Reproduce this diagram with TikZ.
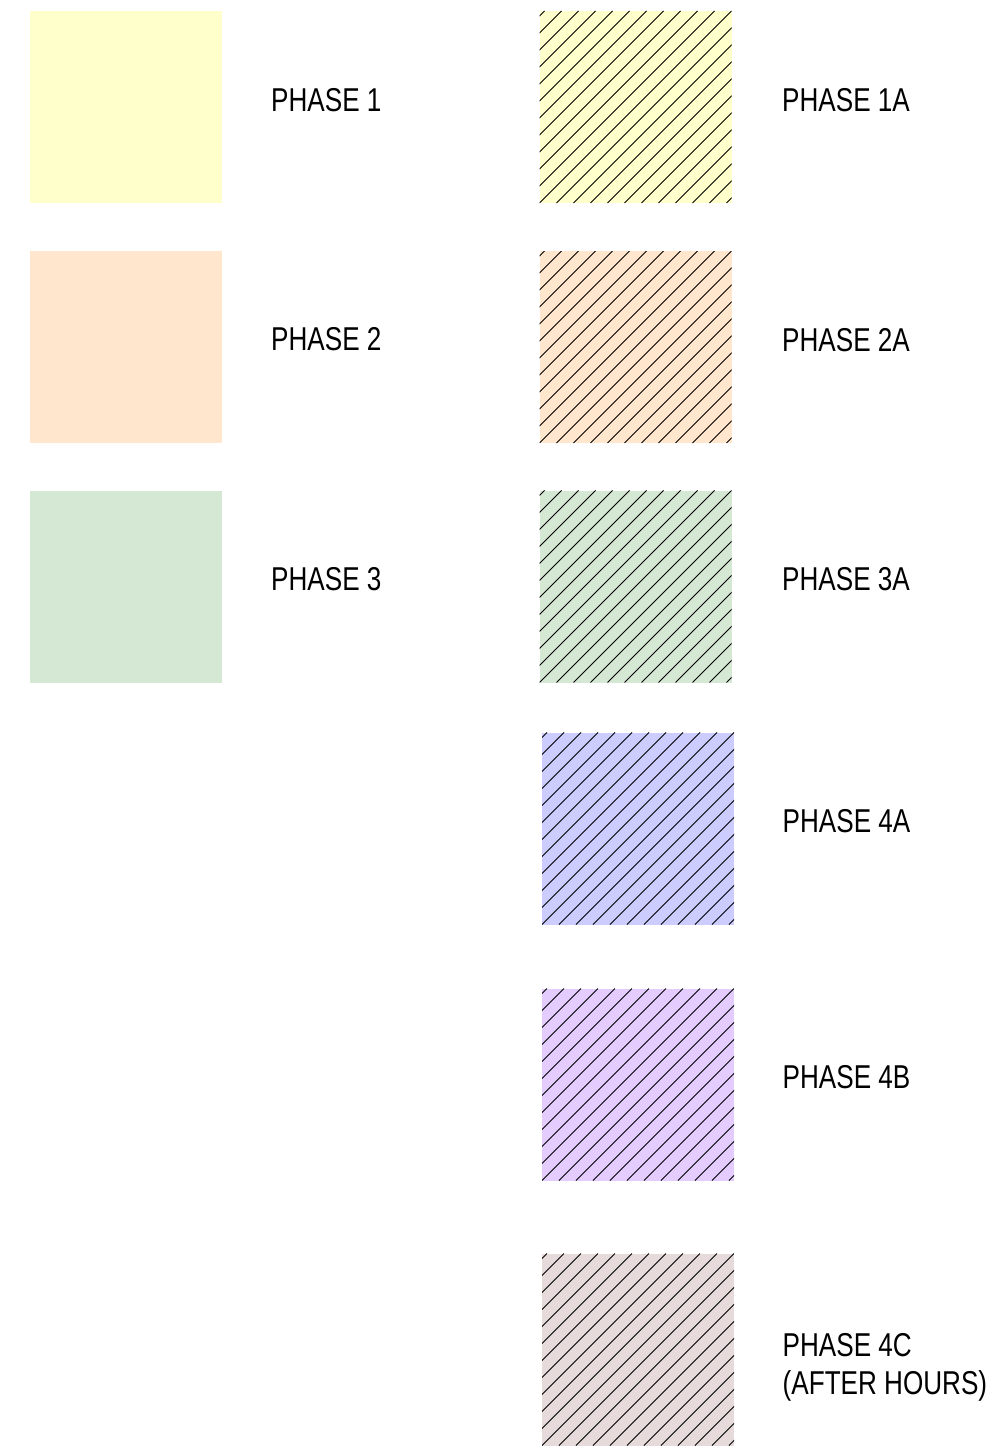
\documentclass[tikz,border=0pt]{standalone}
\usepackage{fontspec}
\setmainfont{Liberation Sans}[FakeStretch=0.79]
\usepackage{tikz}
\usetikzlibrary{positioning}
\definecolor{PhaseYellow}{HTML}{FFFFCC}
\definecolor{PhasePeach}{HTML}{FFE6CC}
\definecolor{PhaseGreen}{HTML}{D5E8D4}
\definecolor{PhaseBlue}{HTML}{CCCCFF}
\definecolor{PhaseViolet}{HTML}{E5CCFF}
\definecolor{PhaseTaupe}{HTML}{E6DADA}

\begin{document}
\begin{tikzpicture}[
    % Style for the coloured legend squares
    swatch/.style = {
        rectangle, minimum size=3.84cm, inner sep=0pt, draw=none
    },
    % Diagonal hatching laid over a swatch
    hatched/.style = {
        path picture={
            \foreach \k in {-12,...,12}
                \draw[black, line width=0.5pt]
                    ([xshift=\k*0.34cm]path picture bounding box.south west)
                    -- ++(3.84,3.84);
        }
    },
    % Style for the legend texts
    legend/.style = {font=\fontsize{18.8}{21.5}\selectfont, inner sep=0pt,
                     align=left, yshift=0.14cm},
]
\useasboundingbox (0,0) rectangle (19.96,-29.04);

% --- 1. PLAIN PHASES ---
\node[swatch, fill=PhaseYellow] (p1) at (2.51,-2.14) {};
\node[swatch, fill=PhasePeach]  (p2) at (2.51,-6.93) {};
\node[swatch, fill=PhaseGreen]  (p3) at (2.51,-11.73) {};

\node[legend, right=0.98cm of p1] (t1) {PHASE 1};
\node[legend, right=0.98cm of p2] (t2) {PHASE 2};
\node[legend, right=0.98cm of p3] (t3) {PHASE 3};

% --- 2. HATCHED PHASES ---
\node[swatch, hatched, fill=PhaseYellow] (p1a) at (12.71,-2.14) {};
\node[swatch, hatched, fill=PhasePeach]  (p2a) at (12.71,-6.94) {};
\node[swatch, hatched, fill=PhaseGreen]  (p3a) at (12.71,-11.73) {};
\node[swatch, hatched, fill=PhaseBlue]   (p4a) at (12.76,-16.57) {};
\node[swatch, hatched, fill=PhaseViolet] (p4b) at (12.76,-21.69) {};
\node[swatch, hatched, fill=PhaseTaupe]  (p4c) at (12.76,-26.99) {};

\node[legend, right=1cm of p1a] (t1a) {PHASE 1A};
\node[legend, right=1cm of p2a] (t2a) {PHASE 2A};
\node[legend, right=1cm of p3a] (t3a) {PHASE 3A};
\node[legend, right=0.96cm of p4a] (t4a) {PHASE 4A};
\node[legend, right=0.96cm of p4b] (t4b) {PHASE 4B};
\node[legend, right=0.96cm of p4c, yshift=-0.5cm] (t4c) {PHASE 4C\\(AFTER HOURS)};

\end{tikzpicture}
\end{document}
